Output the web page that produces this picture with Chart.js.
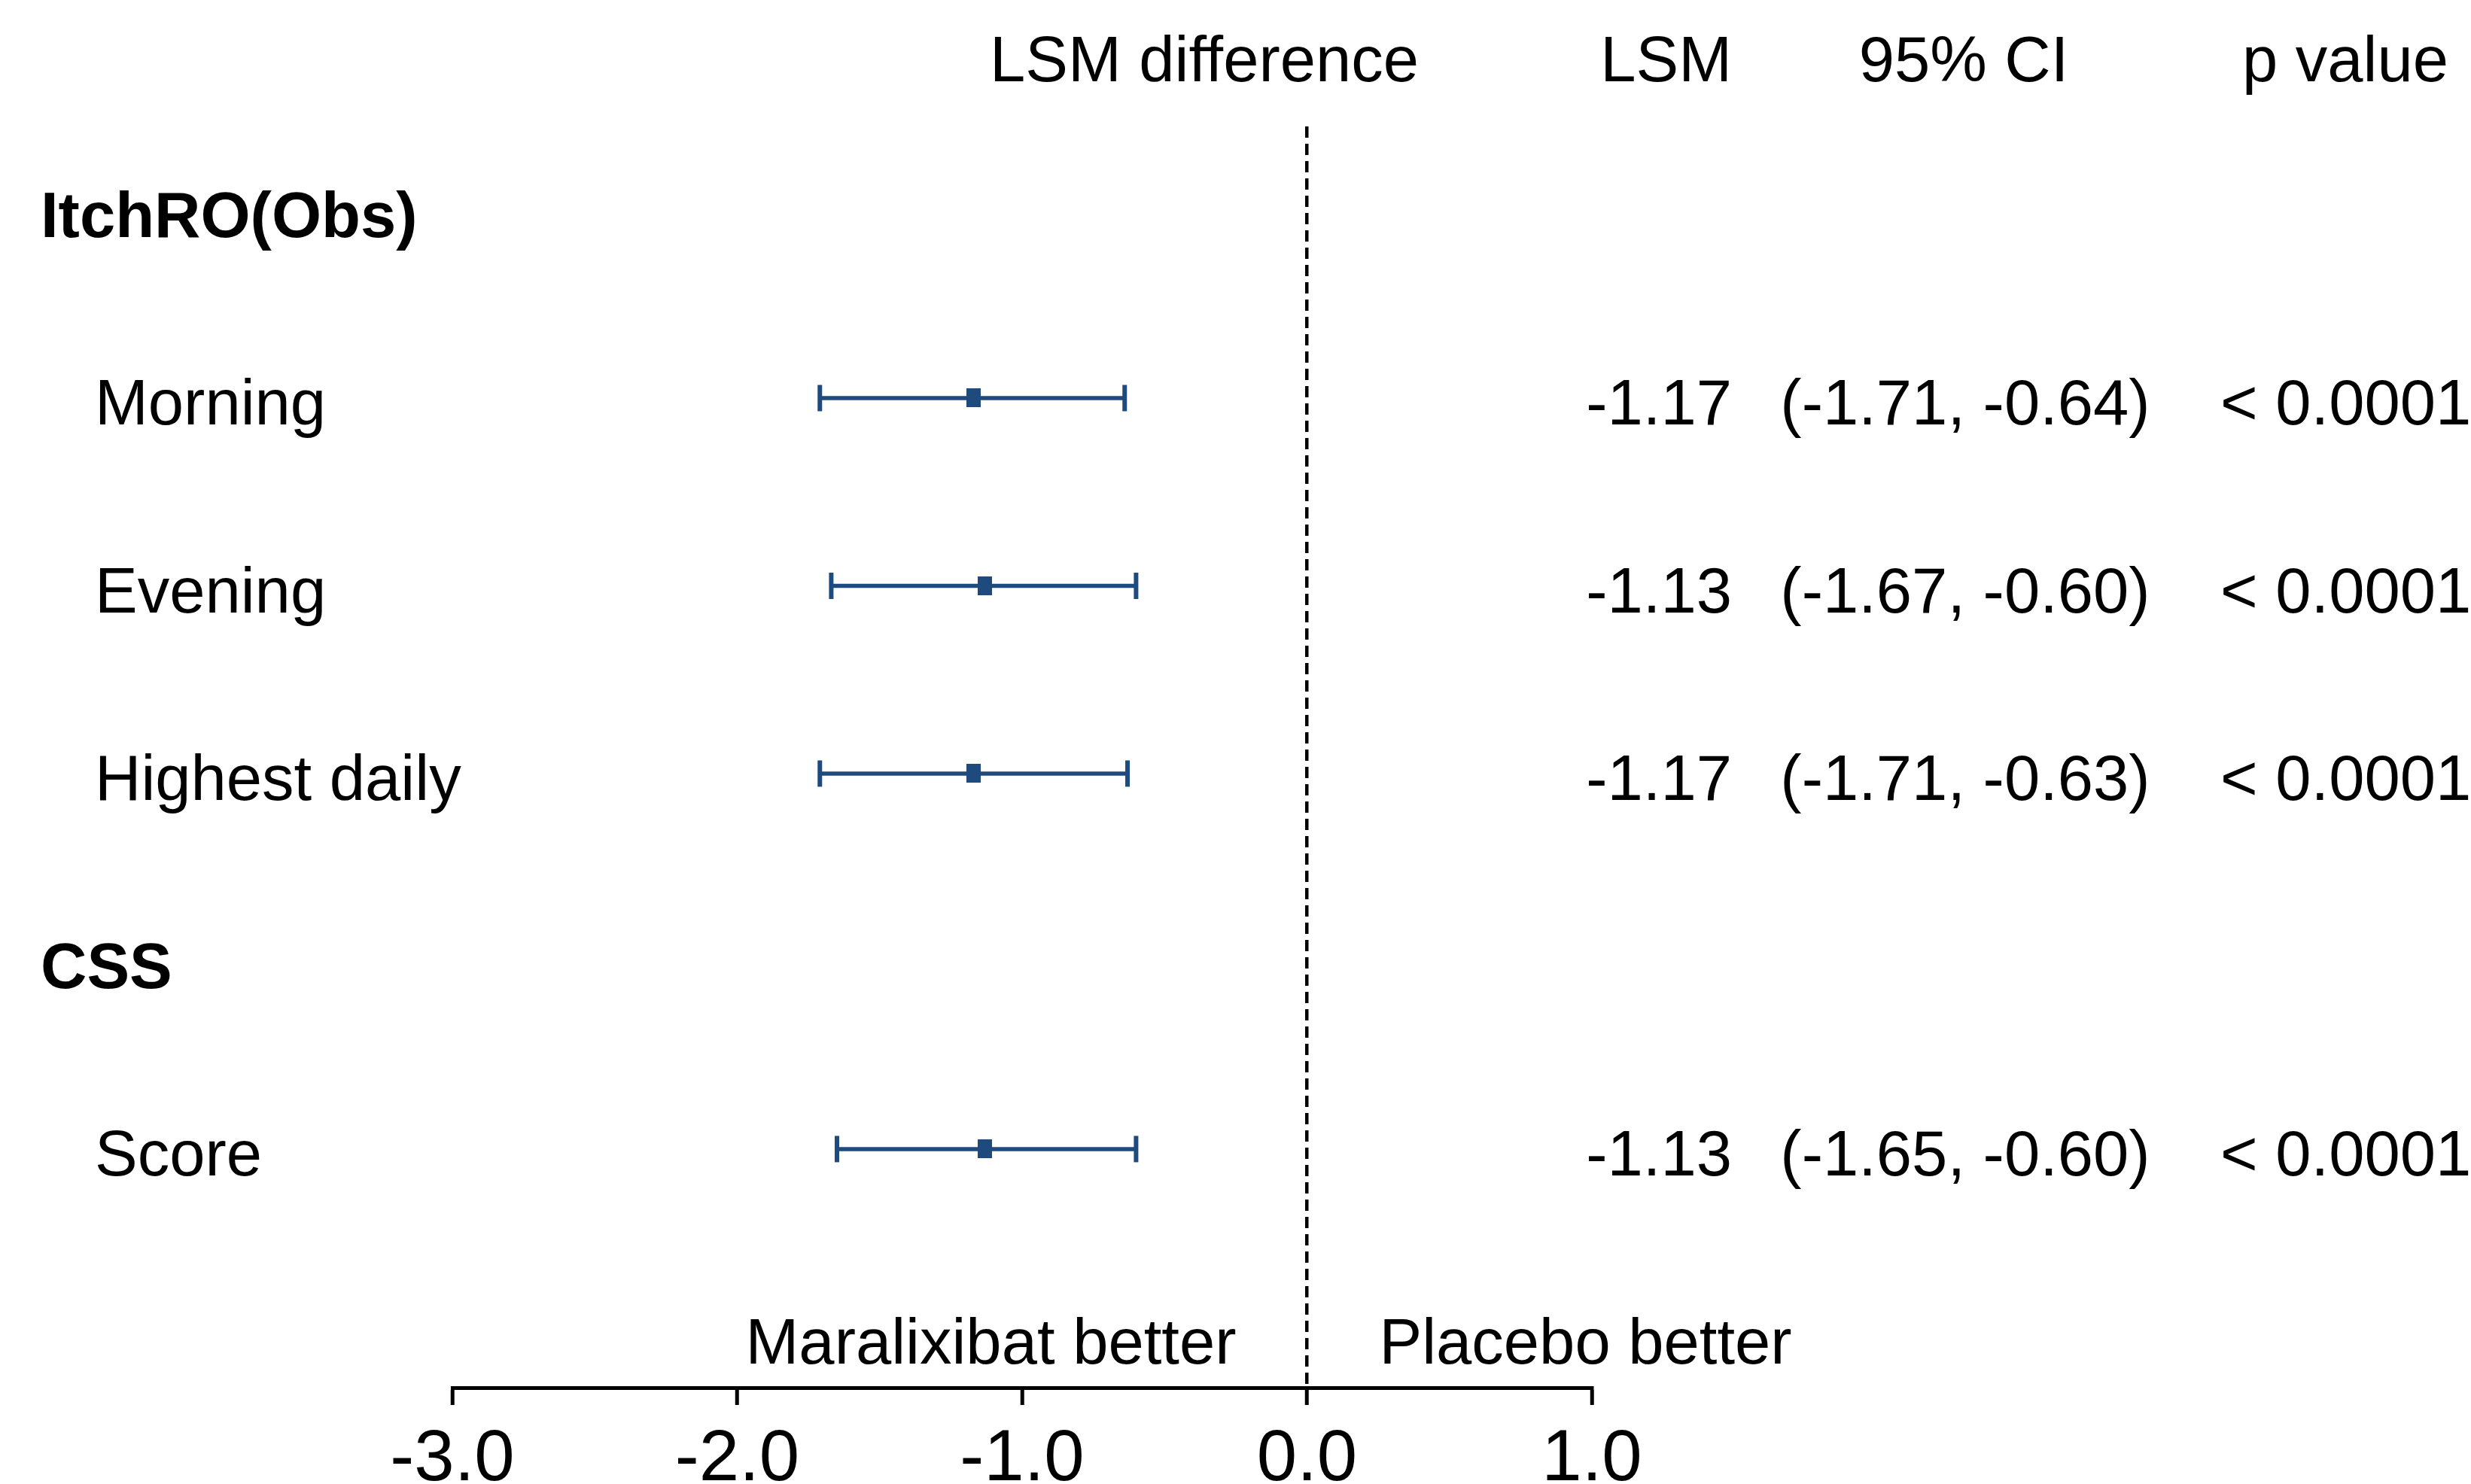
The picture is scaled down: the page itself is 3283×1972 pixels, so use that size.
<!DOCTYPE html>
<html>
<head>
<meta charset="utf-8">
<script src="https://cdn.jsdelivr.net/npm/chart.js@4.4.1/dist/chart.umd.min.js"></script>
<style>
  html, body { margin: 0; padding: 0; background: #fff; }
  #wrap { width: 3283px; height: 1972px; }
</style>
</head>
<body>
<div id="wrap"><canvas id="forest" width="3283" height="1972"></canvas></div>
<script>
// Forest plot of LSM differences (maralixibat vs placebo) with a text table
// on the right. Rows are indexed from 1 down the page on a hidden y scale.
const rowLabels = ['ItchRO(Obs)', 'Morning', 'Evening', 'Highest daily', 'CSS', 'Score'];
const rowIsGroup = [true, false, false, false, true, false];
const lsm = [null, -1.17, -1.13, -1.17, null, -1.13];
const ciLow = [null, -1.71, -1.67, -1.71, null, -1.65];
const ciHigh = [null, -0.64, -0.60, -0.63, null, -0.60];
const pValues = ['', '< 0.0001', '< 0.0001', '< 0.0001', '', '< 0.0001'];
const xTicks = [-3, -2, -1, 0, 1];
const headers = { plot: 'LSM difference', lsm: 'LSM', ci: '95% CI', p: 'p value' };
const sideNotes = { left: 'Maralixibat better', right: 'Placebo better' };

const BLUE = '#1f4a7e';
const FONT = "'Liberation Sans', Arial, Helvetica, sans-serif";
const TEXT_PX = 85;
const HEADER_ROW = 0.17;
const NOTE_ROW = 7;

const rowValue = (i) => i + 1;

// slightly tall square marker, as in the original figure
const marker = document.createElement('canvas');
marker.width = 19;
marker.height = 25;
const mctx = marker.getContext('2d');
mctx.fillStyle = BLUE;
mctx.fillRect(0, 0, marker.width, marker.height);

const pointData = [];
const barSets = [];
lsm.forEach((v, i) => {
  if (v == null) return;
  pointData.push({ x: v, y: rowValue(i) });
  barSets.push({
    data: [{ x: ciLow[i], y: rowValue(i) }, { x: ciHigh[i], y: rowValue(i) }],
    showLine: true,
    borderColor: BLUE,
    borderWidth: 5.5,
    pointStyle: 'line',
    pointRotation: 90,
    pointRadius: 17.5,
    pointBorderWidth: 6,
    pointBorderColor: BLUE,
    clip: false,
  });
});

const textPlugin = {
  id: 'forestText',
  afterDraw(chart) {
    const { ctx, scales: { x, y } } = chart;
    // alphabetic baseline placed so the cap height sits centred on the row
    const baseY = (r) => y.getPixelForValue(r) + 5 + TEXT_PX * 0.716 / 2;
    const regular = `${TEXT_PX}px ${FONT}`;
    ctx.save();
    ctx.fillStyle = '#000';
    ctx.textBaseline = 'alphabetic';

    ctx.font = regular;
    const hy = baseY(HEADER_ROW);
    ctx.textAlign = 'center';
    ctx.fillText(headers.plot, 1600, hy);
    ctx.textAlign = 'right';
    ctx.fillText(headers.lsm, 2301, hy);
    ctx.textAlign = 'center';
    ctx.fillText(headers.ci, 2609, hy);
    ctx.fillText(headers.p, 3116, hy);

    rowLabels.forEach((label, i) => {
      const ry = baseY(rowValue(i));
      ctx.textAlign = 'left';
      if (rowIsGroup[i]) {
        ctx.font = `bold ${TEXT_PX}px ${FONT}`;
        ctx.fillText(label, 54, ry);
        return;
      }
      ctx.font = regular;
      ctx.fillText(label, 126, ry);
      ctx.textAlign = 'right';
      ctx.fillText(lsm[i].toFixed(2), 2301, ry);
      ctx.textAlign = 'center';
      ctx.fillText(`(${ciLow[i].toFixed(2)}, ${ciHigh[i].toFixed(2)})`, 2611, ry);
      ctx.textAlign = 'left';
      ctx.fillText(pValues[i], 2950, ry);
    });

    const ny = baseY(NOTE_ROW);
    const zero = x.getPixelForValue(0);
    ctx.font = regular;
    ctx.textAlign = 'right';
    ctx.fillText(sideNotes.left, zero - 94, ny);
    ctx.textAlign = 'left';
    ctx.fillText(sideNotes.right, zero + 96, ny);
    ctx.restore();
  },
};

new Chart(document.getElementById('forest'), {
  type: 'scatter',
  data: {
    datasets: [
      {
        data: pointData,
        pointStyle: marker,
        pointRadius: 12,
        clip: false,
      },
      ...barSets,
    ],
  },
  options: {
    responsive: false,
    devicePixelRatio: 1,
    animation: false,
    layout: { padding: { left: 601, right: 1168, top: 168, bottom: 0 } },
    scales: {
      x: {
        type: 'linear',
        min: xTicks[0],
        max: xTicks[xTicks.length - 1],
        afterFit: (scale) => { scale.height = 128; },
        afterBuildTicks: (scale) => { scale.ticks = xTicks.map((v) => ({ value: v })); },
        ticks: {
          color: '#000',
          padding: 16,
          maxRotation: 0,
          font: { family: FONT, size: 96 },
          callback: (v) => Number(v).toFixed(1),
        },
        grid: {
          color: (ctx) => (ctx.tick && ctx.tick.value === 0 ? '#000' : 'rgba(0,0,0,0)'),
          lineWidth: 4.5,
          tickColor: '#000',
          tickLength: 23,
          tickWidth: 5,
        },
        border: { display: true, color: '#000', width: 5, dash: [15, 8] },
      },
      y: {
        type: 'linear',
        display: false,
        reverse: true,
        min: 0.553,
        max: 7.271,
      },
    },
    plugins: {
      legend: { display: false },
      tooltip: { enabled: false },
    },
  },
  plugins: [textPlugin],
});
</script>
</body>
</html>
